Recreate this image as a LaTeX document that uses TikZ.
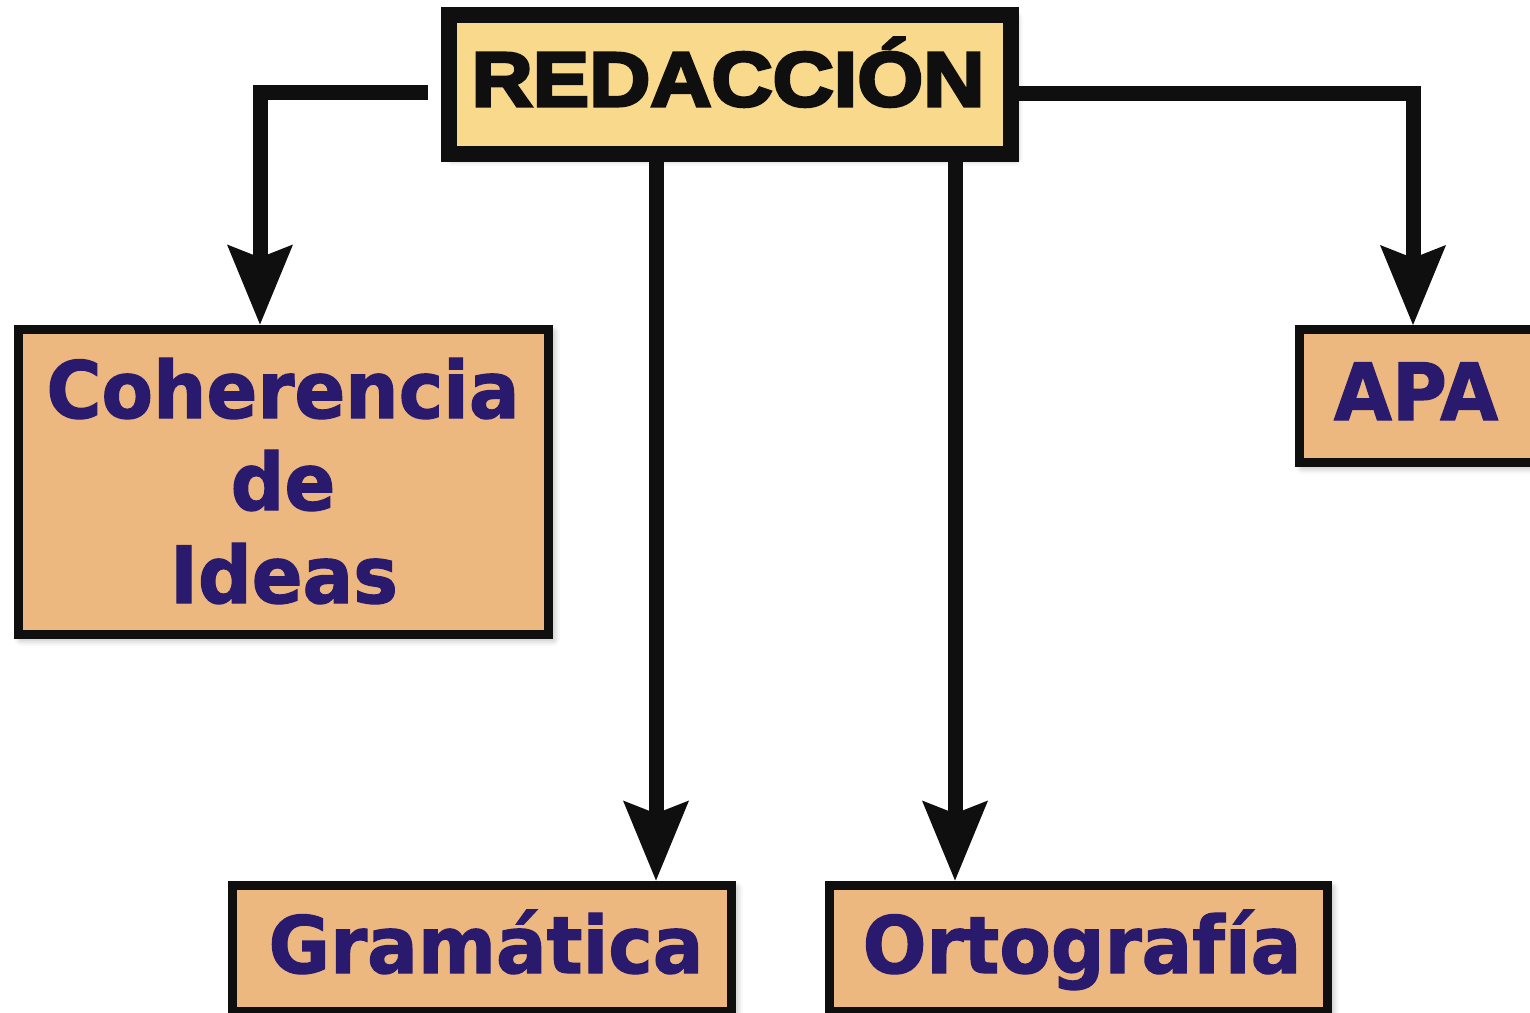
\documentclass[tikz,border=0pt]{standalone}
\usepackage{fontspec}
\usetikzlibrary{arrows.meta,calc,shadows.blur}
\newfontfamily\vfont{DejaVu Sans}[FakeStretch=0.95,FakeBold=1.5]
\newfontfamily\hfont{Liberation Sans}[FakeStretch=1.1,FakeBold=4]
\definecolor{redfill}{HTML}{F9DA8D}
\definecolor{boxfill}{HTML}{EDB880}
\definecolor{txtc}{HTML}{2A1A6E}
\definecolor{linec}{HTML}{0F0F0F}
\tikzset{
  box/.style={draw=linec, fill=boxfill, line width=9pt, inner sep=0pt,
    blur shadow={shadow xshift=4pt, shadow yshift=-4pt, shadow blur radius=8pt, shadow opacity=45}},
  topbox/.style={box, fill=redfill, line width=16pt},
  arr/.style={draw=linec, line width=15pt, line join=miter,
    -{Stealth[length=80pt,width=66pt,inset=13pt,line width=0pt]}},
  lbl/.style={anchor=base, inner sep=0pt, text=txtc,
    font=\vfont\bfseries\fontsize{79}{90}\selectfont},
  toplbl/.style={anchor=base, inner sep=0pt, text=linec,
    font=\hfont\bfseries\fontsize{77}{90}\selectfont},
}
\begin{document}
\begin{tikzpicture}[x=1pt,y=-1pt]
  \useasboundingbox (0,0) rectangle (1530,1012);
  \clip (0,0) rectangle (1530,1012);
  % boxes
  \node[topbox, minimum width=562pt, minimum height=139pt] (red) at (730,84.5) {};
  \node[box, minimum width=530pt, minimum height=305pt] (coh) at (283,481.5) {};
  \node[box, minimum width=237pt, minimum height=132.5pt] (apa) at (1417.5,395.75) {};
  \node[box, minimum width=499pt, minimum height=126pt] (gram) at (481.5,948) {};
  \node[box, minimum width=498pt, minimum height=126pt] (orto) at (1078,948) {};
  % connector columns
  \coordinate (cx) at (260,0);
  \coordinate (ax) at (1413,0);
  \coordinate (gx) at (656,0);
  \coordinate (ox) at (955,0);
  % connectors
  \draw[arr] ([shift={(-13,7.5)}]red.west) -| (coh.north -| cx);
  \draw[arr] ([shift={(0,8.5)}]red.east) -| (apa.north -| ax);
  \draw[arr] (red.south -| gx) -- (gram.north -| gx);
  \draw[arr] (red.south -| ox) -- (orto.north -| ox);
  % labels
  \node[toplbl] (redT) at (728,106) {REDACCIÓN};
  \node[lbl] (coh1) at (283,418) {Coherencia};
  \node[lbl] (coh2) at (283,510) {de};
  \node[lbl] (coh3) at (284,603) {Ideas};
  \node[lbl] (apaT) at (1416,420) {APA};
  \node[lbl] (gramT) at (486,973) {Gramática};
  \node[lbl] (ortoT) at (1082,973) {Ortografía};
\end{tikzpicture}
\end{document}
